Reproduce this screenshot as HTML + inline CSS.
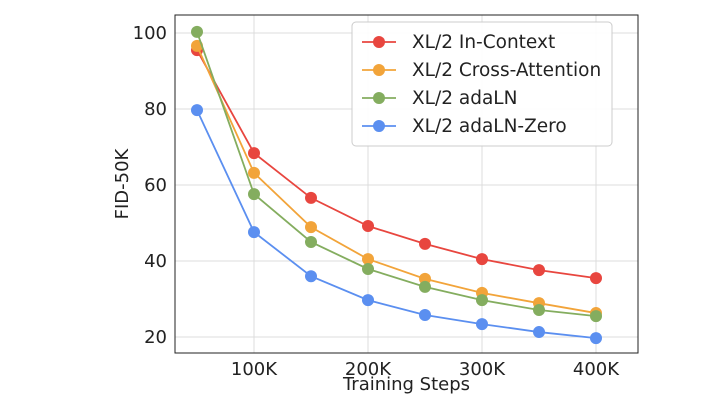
<!DOCTYPE html>
<html><head><meta charset="utf-8"><style>
body{margin:0;background:#fff;}
svg{display:block;font-family:"DejaVu Sans","Liberation Sans",sans-serif;}
</style></head><body>
<svg id="chart" width="722" height="406"></svg>
<script>
const steps=[50,100,150,200,250,300,350,400];
const inContext=[95.5,68.4,56.6,49.2,44.5,40.5,37.6,35.5];
const crossAttn=[96.6,63.2,48.9,40.5,35.3,31.6,28.9,26.3];
const adaLN=[100.3,57.6,45.0,37.9,33.2,29.7,27.1,25.5];
const adaLNZero=[79.7,47.6,36.0,29.7,25.8,23.4,21.3,19.7];
const xTicks=[100,200,300,400];
const xTickLabels=["100K","200K","300K","400K"];
const yTicks=[20,40,60,80,100];
const seriesNames=["XL/2 In-Context","XL/2 Cross-Attention","XL/2 adaLN","XL/2 adaLN-Zero"];
const colors=["#e8463f","#f2a43a","#84ad5f","#5b8ff0"];
const NS="http://www.w3.org/2000/svg";
const svg=document.getElementById('chart');
function X(s){return 254+(s-100)*1.14;}
function Y(v){return 337-(v-20)*3.8;}
function mk(t,a,p){const e=document.createElementNS(NS,t);for(const k in a)e.setAttribute(k,a[k]);(p||svg).appendChild(e);return e;}
const L=175,R=638,T=15,B=353;
xTicks.forEach((t,i)=>{
 const g=mk('line',{x1:X(t),x2:X(t),y1:T,y2:B,stroke:'#dcdcdc','stroke-width':1});
 
 
 const tx=mk('text',{x:X(t),y:B+22,'text-anchor':'middle','font-size':18,fill:'#222'});
 tx.textContent=xTickLabels[i];
 
 
});
yTicks.forEach(t=>{
 const g=mk('line',{x1:L,x2:R,y1:Y(t),y2:Y(t),stroke:'#dcdcdc','stroke-width':1});
 
 
 const tx=mk('text',{x:L-8,y:Y(t)+6,'text-anchor':'end','font-size':18,fill:'#222'});
 tx.textContent=t;
 
 
});
const frame=mk('rect',{x:L,y:T,width:R-L,height:B-T,fill:'none',stroke:'#222','stroke-width':1});


[inContext,crossAttn,adaLN,adaLNZero].forEach((s,i)=>{
 const pl=mk('polyline',{points:s.map((v,j)=>X(steps[j])+','+Y(v)).join(' '),fill:'none',stroke:colors[i],'stroke-width':1.8});
 
 
 s.forEach((v,j)=>{
  const c=mk('circle',{cx:X(steps[j]),cy:Y(v),r:6,fill:colors[i]});
  
  
 });
});
const xl=mk('text',{x:(L+R)/2,y:390,'text-anchor':'middle','font-size':18,fill:'#222'});
xl.textContent='Training Steps';


const yl=mk('text',{x:0,y:0,'text-anchor':'middle','font-size':18,fill:'#222',transform:'translate(128,184) rotate(-90)'});
yl.textContent='FID-50K';


const lg=mk('rect',{x:352,y:22,width:260,height:124,rx:4,fill:'#fff','fill-opacity':0.9,stroke:'#ccc'});


seriesNames.forEach((n,i)=>{
 const y=42+i*28;
 const ln=mk('line',{x1:362,x2:396,y1:y,y2:y,stroke:colors[i],'stroke-width':1.8});
 
 
 const c=mk('circle',{cx:379,cy:y,r:6,fill:colors[i]});
 
 
 const t=mk('text',{x:412,y:y+6,'font-size':18.5,fill:'#222'});
 t.textContent=n;
 
 
});
</script>
</body></html>
